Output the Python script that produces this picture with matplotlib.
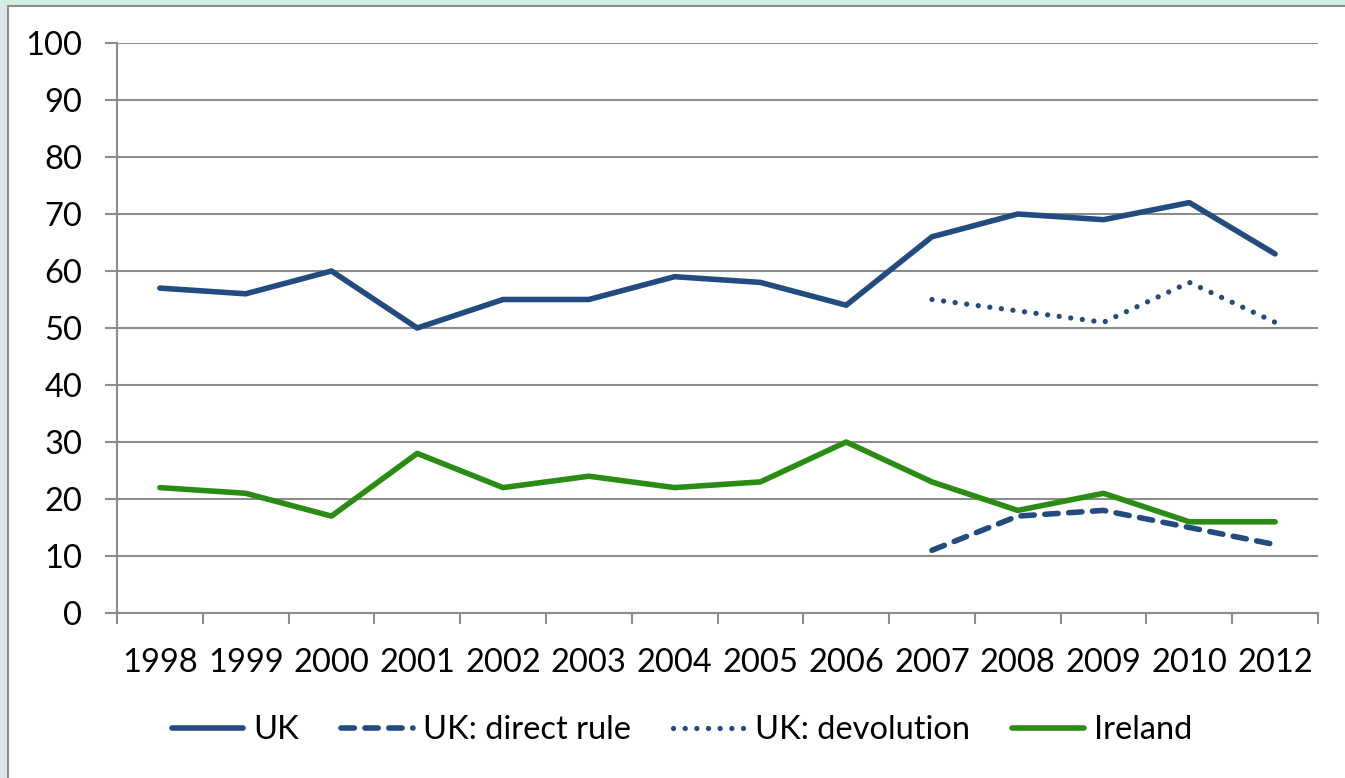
import matplotlib
matplotlib.use("Agg")
import matplotlib.pyplot as plt
import numpy as np
from matplotlib.patches import Rectangle

years = ["1998", "1999", "2000", "2001", "2002", "2003", "2004", "2005",
         "2006", "2007", "2008", "2009", "2010", "2012"]
uk = [57, 56, 60, 50, 55, 55, 59, 58, 54, 66, 70, 69, 72, 63]
uk_direct_years = ["2007", "2008", "2009", "2010", "2012"]
uk_direct = [11, 17, 18, 15, 12]
uk_devolution = [55, 53, 51, 58, 51]
ireland = [22, 21, 17, 28, 22, 24, 22, 23, 30, 23, 18, 21, 16, 16]
y_ticks = [0, 10, 20, 30, 40, 50, 60, 70, 80, 90, 100]

BLUE = "#224B7F"
GREEN = "#2A8C12"
GRID = "#8C8C8C"
FS = 23.5

plt.rcParams['font.family'] = ['Lato', 'DejaVu Sans']

W, H = 1345, 778
fig = plt.figure(figsize=(W / 100, H / 100), dpi=100)
fig.patch.set_facecolor("white")

# Outer background strips and chart frame
bg = fig.add_axes([0, 0, 1, 1], zorder=-10)
bg.set_xlim(0, W); bg.set_ylim(H, 0); bg.axis("off")
bg.add_patch(Rectangle((0, 0), W, H, facecolor="#DCE6F0", edgecolor="none"))
bg.add_patch(Rectangle((0, 0), W, 6, facecolor="#D2EDE2", edgecolor="none"))
bg.add_patch(Rectangle((8, 6), W, H - 3, facecolor="white", edgecolor="#8C8C8C", linewidth=1.5))

ax = fig.add_axes([117 / W, 1 - 613 / H, (1318 - 117) / W, (613 - 43) / H])
ax.set_facecolor("none")

x = np.arange(len(years))
idx_direct = [years.index(y) for y in uk_direct_years]

LW = 4.0
ax.plot(x, uk, color=BLUE, lw=LW, solid_joinstyle="round", solid_capstyle="round", label="UK")
ax.plot(idx_direct, uk_direct, color=BLUE, lw=LW, dashes=(2.4, 1.9),
        dash_capstyle="round", label="UK: direct rule")
ax.plot(idx_direct, uk_devolution, color=BLUE, lw=3.8, dashes=(0.01, 2.2),
        dash_capstyle="round", label="UK: devolution")
ax.plot(x, ireland, color=GREEN, lw=LW, solid_joinstyle="round", solid_capstyle="round", label="Ireland")

ax.set_xlim(-0.5, len(years) - 0.5)
ax.set_ylim(0, 100)
ax.set_yticks(y_ticks)
ax.set_yticklabels([str(v) for v in y_ticks])
ax.set_xticks(x)
ax.set_xticklabels(years)
ax.set_xticks(np.arange(-0.5, len(years), 1.0), minor=True)

ax.grid(axis="y", color=GRID, lw=1.5)
ax.set_axisbelow(True)
for s in ["top", "right"]:
    ax.spines[s].set_visible(False)
for s in ["left", "bottom"]:
    ax.spines[s].set_color(GRID)
    ax.spines[s].set_linewidth(1.5)

ax.tick_params(axis="y", length=9, width=1.5, color=GRID, labelsize=FS, pad=16, labelcolor="black")
ax.tick_params(axis="x", which="major", length=0, labelsize=FS, pad=25, labelcolor="black")
ax.tick_params(axis="x", which="minor", length=8, width=1.5, color=GRID)

leg = fig.legend(loc="center", bbox_to_anchor=(682 / W, 1 - 730 / H), ncol=4, frameon=False,
                 fontsize=FS, handlelength=2.2, handletextpad=0.3, columnspacing=1.3)

fig.savefig("out.png", dpi=100)
